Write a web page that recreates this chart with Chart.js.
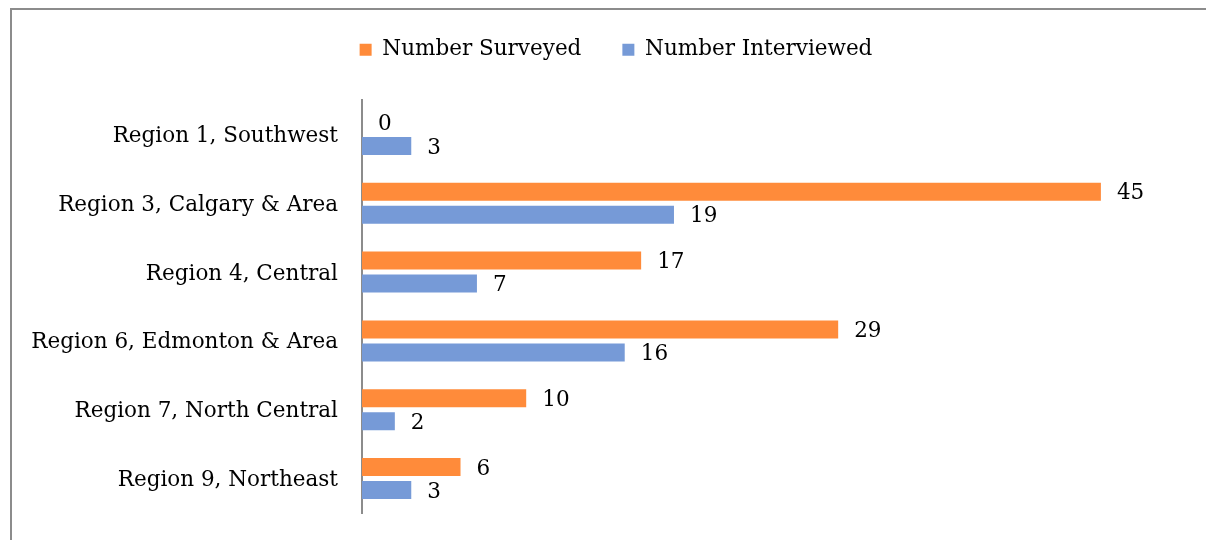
<!DOCTYPE html>
<html>
<head>
<meta charset="utf-8">
<script src="https://cdn.jsdelivr.net/npm/chart.js@4/dist/chart.umd.min.js"></script>
<style>
  html, body { margin: 0; padding: 0; background: #ffffff; overflow: hidden; }
  #wrap { position: relative; width: 1206px; height: 540px; }
  #frame { position: absolute; left: 10px; top: 8px; width: 1300px; height: 700px;
           border-top: 2px solid #8c8c8c; border-left: 2px solid #8c8c8c; }
  canvas { position: absolute; left: 0; top: 0; }
</style>
</head>
<body>
<div id="wrap">
  <div id="frame"></div>
  <canvas id="c" width="1206" height="540"></canvas>
</div>
<script>
const categories = [
  "Region 1, Southwest",
  "Region 3, Calgary & Area",
  "Region 4, Central",
  "Region 6, Edmonton & Area",
  "Region 7, North Central",
  "Region 9, Northeast"
];
const numberSurveyed = [0, 45, 17, 29, 10, 6];
const numberInterviewed = [3, 19, 7, 16, 2, 3];
const seriesNames = ["Number Surveyed", "Number Interviewed"];

const FONT = "'DejaVu Serif', serif";
const FSIZE = 21.5;

const valueLabels = {
  id: 'valueLabels',
  afterDatasetsDraw(chart) {
    const ctx = chart.ctx;
    ctx.save();
    ctx.font = FSIZE + "px " + FONT;
    ctx.fillStyle = '#000';
    ctx.textAlign = 'left';
    ctx.textBaseline = 'middle';
    chart.data.datasets.forEach((ds, i) => {
      const meta = chart.getDatasetMeta(i);
      meta.data.forEach((el, j) => {
        ctx.fillText(String(ds.data[j]), el.x + 16, el.y + 2);
      });
    });
    ctx.restore();
  }
};

const legendSpace = {
  id: 'legendSpace',
  beforeInit(chart) {
    const orig = chart.legend.fit;
    chart.legend.fit = function () {
      orig.bind(chart.legend)();
      this.height = 102;
    };
  },
  afterLayout(chart) {
    // centre the legend row over x = 616 like the original
    chart.legend.left = 49;
  }
};

new Chart(document.getElementById('c'), {
  type: 'bar',
  data: {
    labels: categories,
    datasets: [
      { label: seriesNames[0], data: numberSurveyed, backgroundColor: '#FF8B3A',
        categoryPercentage: 0.67, barPercentage: 0.78 },
      { label: seriesNames[1], data: numberInterviewed, backgroundColor: '#769AD7',
        categoryPercentage: 0.67, barPercentage: 0.78 }
    ]
  },
  options: {
    indexAxis: 'y',
    responsive: false,
    animation: false,
    devicePixelRatio: 1,
    layout: { padding: { top: -2, left: 10, right: 23, bottom: 27 } },
    plugins: {
      legend: {
        position: 'top',
        labels: {
          boxWidth: 12, boxHeight: 12, padding: 41,
          color: '#000',
          font: { family: FONT, size: FSIZE }
        }
      },
      tooltip: { enabled: false }
    },
    scales: {
      x: { display: false, min: 0, max: 50 },
      y: {
        grid: { display: false, drawTicks: false },
        border: { color: '#8c8c8c', width: 2 },
        ticks: { color: '#000', padding: 24, labelOffset: 2, font: { family: FONT, size: FSIZE } },
        afterFit(scale) { scale.width = 352; scale.paddingTop = 0; scale.paddingBottom = 0; }
      }
    }
  },
  plugins: [valueLabels, legendSpace]
});
</script>
</body>
</html>
